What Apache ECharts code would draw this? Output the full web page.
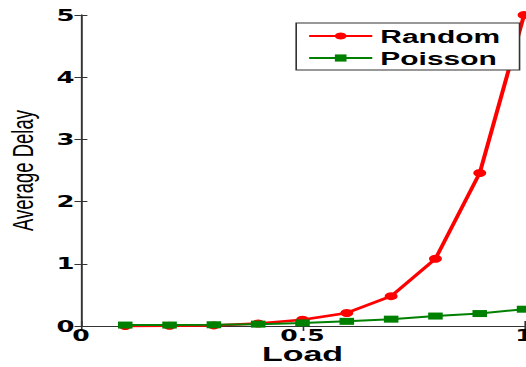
<!DOCTYPE html>
<html>
<head>
<meta charset="utf-8">
<script src="https://cdn.jsdelivr.net/npm/echarts@6/dist/echarts.min.js"></script>
<style>
  html, body { margin: 0; padding: 0; background: #fff; overflow: hidden; }
  /* the figure is drawn narrow and widened horizontally */
  #chart { width: 325px; height: 367px; transform: scaleX(1.6185); transform-origin: 0 0; }
</style>
</head>
<body>
<div id="chart"></div>
<script>
// Load on the x axis, average delay of each traffic model on the y axis
const load = [0.1, 0.2, 0.3, 0.4, 0.5, 0.6, 0.7, 0.8, 0.9, 1.0];
const randomDelay = [0.0, 0.005, 0.01, 0.04, 0.1, 0.21, 0.48, 1.08, 2.46, 5.0];
const poissonDelay = [0.015, 0.015, 0.02, 0.03, 0.05, 0.075, 0.11, 0.16, 0.2, 0.27];
const seriesNames = ['Random', 'Poisson'];
const xRange = [0, 1];
const xStep = 0.5;
const yRange = [0, 5];
const yStep = 1;

const frame = { show: true, lineStyle: { color: '#333', width: 1 } };
const tickFont = { fontFamily: 'DejaVu Sans', fontWeight: 'bold', fontSize: 16, color: '#000' };

const toPoints = ys => load.map((x, i) => [x, ys[i]]);

const chart = echarts.init(document.getElementById('chart'), null, { renderer: 'svg' });
chart.setOption({
  animation: false,
  backgroundColor: '#fff',
  grid: { left: 50, right: 1.2, top: 15, bottom: 41, outerBoundsMode: 'none', containLabel: false },
  legend: {
    orient: 'vertical',
    left: 183,
    top: 23,
    padding: [3, 12, 2, 7],
    itemGap: 2,
    itemWidth: 39,
    itemHeight: 9,
    backgroundColor: '#fff',
    borderColor: '#333',
    borderWidth: 1,
    textStyle: { fontFamily: 'Liberation Sans', fontWeight: 'bold', fontSize: 18.5, color: '#000', lineHeight: 20 },
    data: seriesNames
  },
  xAxis: [
    {
      type: 'value', position: 'bottom', min: xRange[0], max: xRange[1], interval: xStep,
      axisLine: frame,
      axisTick: { show: true, inside: true, length: 5, lineStyle: { color: '#333' } },
      axisLabel: Object.assign({ margin: 3, lineHeight: 14 }, tickFont, { fontSize: 15.5 }),
      splitLine: { show: false },
      name: 'Load', nameLocation: 'middle', nameGap: 19, nameMoveOverlap: false,
      nameTextStyle: { fontFamily: 'Liberation Sans', fontWeight: 'bold', fontSize: 21, lineHeight: 18, color: '#000' }
    },
    {
      type: 'value', position: 'top', min: xRange[0], max: xRange[1], interval: xStep,
      axisLine: frame,
      axisTick: { show: true, inside: true, length: 5, lineStyle: { color: '#333' } },
      axisLabel: { show: false },
      splitLine: { show: false }
    }
  ],
  yAxis: [
    {
      type: 'value', position: 'left', min: yRange[0], max: yRange[1], interval: yStep,
      axisLine: frame,
      axisTick: { show: true, inside: true, length: 4, lineStyle: { color: '#333' } },
      axisLabel: Object.assign({ margin: 4 }, tickFont),
      splitLine: { show: false },
      name: 'Average Delay', nameLocation: 'middle', nameGap: 27, nameMoveOverlap: false,
      nameTextStyle: { fontFamily: 'Liberation Sans', fontSize: 18.5, color: '#000' }
    },
    {
      type: 'value', position: 'right', min: yRange[0], max: yRange[1], interval: yStep,
      axisLine: frame,
      axisTick: { show: true, inside: true, length: 4, lineStyle: { color: '#333' } },
      axisLabel: { show: false },
      splitLine: { show: false }
    }
  ],
  series: [
    {
      name: seriesNames[0], type: 'line', xAxisIndex: 0, yAxisIndex: 0,
      data: toPoints(randomDelay),
      symbol: 'circle', symbolSize: 8, clip: false,
      color: '#ff0000',
      lineStyle: { color: '#ff0000', width: 2.5 },
      itemStyle: { color: '#ff0000' }
    },
    {
      name: seriesNames[1], type: 'line', xAxisIndex: 0, yAxisIndex: 0,
      data: toPoints(poissonDelay),
      symbol: 'rect', symbolSize: [9, 7], clip: false,
      color: '#008000',
      lineStyle: { color: '#008000', width: 2 },
      itemStyle: { color: '#008000' }
    }
  ]
});
</script>
</body>
</html>
